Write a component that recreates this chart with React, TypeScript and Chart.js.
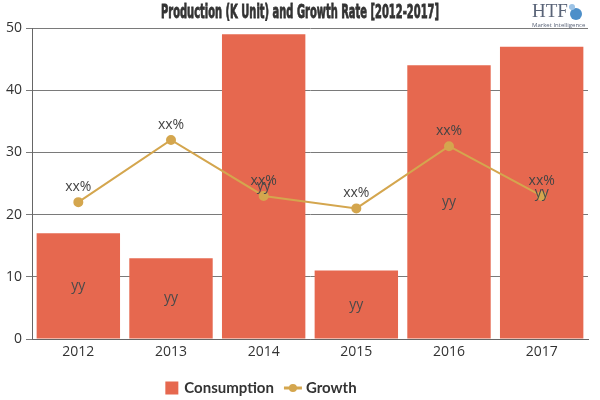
import React, { useEffect, useRef } from "react";
import { Chart, registerables } from "chart.js";

Chart.register(...registerables);

const years = ["2012", "2013", "2014", "2015", "2016", "2017"];
const consumption = [17, 13, 49, 11, 44, 47];
const growth = [22, 32, 23, 21, 31, 23];
const barLabels = ["yy", "yy", "yy", "yy", "yy", "yy"];
const pointLabels = ["xx%", "xx%", "xx%", "xx%", "xx%", "xx%"];
const yTicks = [0, 10, 20, 30, 40, 50];

const titleText = "Production (K Unit) and Growth Rate [2012-2017]";
const seriesNames = ["Consumption", "Growth"];

const BAR_COLOR = "#E6684F";
const LINE_COLOR = "#D4A64E";
const TEXT_COLOR = "#333333";
const UI_FONT = "'Open Sans', 'Noto Sans', sans-serif";
const LEGEND_FONT = "Lato, 'Open Sans', sans-serif";

// Value labels on bars and line points
const valueLabels = {
  id: "valueLabels",
  afterDatasetsDraw(chart: any) {
    const ctx = chart.ctx;
    ctx.save();
    ctx.font = `14px ${UI_FONT}`;
    ctx.textAlign = "center";
    ctx.textBaseline = "middle";
    const barMeta = chart.getDatasetMeta(0);
    barMeta.data.forEach((bar: any, i: number) => {
      ctx.fillStyle = "#4a4a4a";
      ctx.fillText(barLabels[i], bar.x, (bar.y + bar.base) / 2);
    });
    const lineMeta = chart.getDatasetMeta(1);
    lineMeta.data.forEach((pt: any, i: number) => {
      ctx.fillStyle = "#444444";
      ctx.fillText(pointLabels[i], pt.x, pt.y - 15);
    });
    ctx.restore();
  },
};

// Condensed bold title, logo and bottom legend
const decorations = {
  id: "decorations",
  afterDraw(chart: any) {
    const ctx = chart.ctx;
    ctx.save();

    // title, squeezed horizontally for a condensed look
    ctx.font = `bold 20px 'DejaVu Sans Condensed', 'Liberation Sans Narrow', sans-serif`;
    ctx.fillStyle = "#333333";
    ctx.strokeStyle = "#333333";
    ctx.lineWidth = 0.8;
    ctx.textBaseline = "middle";
    const tw = ctx.measureText(titleText).width;
    const targetW = 278;
    ctx.save();
    ctx.translate(300 - targetW / 2, 13);
    ctx.scale(targetW / tw, 1);
    ctx.textAlign = "left";
    ctx.fillText(titleText, 0, 0);
    ctx.strokeText(titleText, 0, 0);
    ctx.restore();

    // logo
    ctx.textAlign = "left";
    ctx.font = `19px 'Liberation Serif', 'DejaVu Serif', serif`;
    ctx.fillStyle = "#5a6478";
    ctx.fillText("HTF", 532, 12);
    ctx.fillStyle = "#4d8fc9";
    ctx.beginPath();
    ctx.arc(576, 14, 6, 0, Math.PI * 2);
    ctx.fill();
    ctx.fillStyle = "#9cc3e6";
    ctx.beginPath();
    ctx.arc(572, 7, 3, 0, Math.PI * 2);
    ctx.fill();
    ctx.font = `6px ${UI_FONT}`;
    ctx.fillStyle = "#5a6478";
    ctx.fillText("Market Intelligence", 532, 25);

    // legend
    ctx.font = `bold 15px ${LEGEND_FONT}`;
    const w1 = ctx.measureText(seriesNames[0]).width;
    const w2 = ctx.measureText(seriesNames[1]).width;
    const box = 13;
    const gap = 6;
    const itemGap = 10;
    const lineW = 18;
    const total = box + gap + w1 + itemGap + lineW + gap - 2 + w2;
    let x = 261 - total / 2;
    const cy = 388;
    ctx.fillStyle = BAR_COLOR;
    ctx.fillRect(x, cy - 6.5, box, box);
    x += box + gap;
    ctx.fillStyle = TEXT_COLOR;
    ctx.textBaseline = "middle";
    ctx.fillText(seriesNames[0], x, cy);
    x += w1 + itemGap;
    ctx.strokeStyle = LINE_COLOR;
    ctx.lineWidth = 3;
    ctx.beginPath();
    ctx.moveTo(x, cy);
    ctx.lineTo(x + lineW, cy);
    ctx.stroke();
    ctx.fillStyle = LINE_COLOR;
    ctx.beginPath();
    ctx.arc(x + lineW / 2, cy, 4, 0, Math.PI * 2);
    ctx.fill();
    x += lineW + gap - 2;
    ctx.fillStyle = TEXT_COLOR;
    ctx.fillText(seriesNames[1], x, cy);

    ctx.restore();
  },
};

export default function App() {
  const canvasRef = useRef<HTMLCanvasElement | null>(null);

  useEffect(() => {
    if (!canvasRef.current) return;
    const chart = new Chart(canvasRef.current, {
      type: "bar",
      data: {
        labels: years,
        datasets: [
          {
            type: "bar",
            label: seriesNames[0],
            data: consumption,
            backgroundColor: BAR_COLOR,
            borderWidth: 0,
            barPercentage: 0.9,
            categoryPercentage: 1,
            order: 2,
          },
          {
            type: "line",
            label: seriesNames[1],
            data: growth,
            borderColor: LINE_COLOR,
            backgroundColor: LINE_COLOR,
            borderWidth: 2,
            pointRadius: 4,
            pointHoverRadius: 4,
            tension: 0,
            fill: false,
            order: 1,
          },
        ],
      },
      options: {
        responsive: false,
        animation: false,
        layout: { padding: { top: 28, right: 12, left: 0, bottom: 0 } },
        plugins: {
          legend: { display: false },
          title: { display: false },
          tooltip: { enabled: false },
        },
        scales: {
          x: {
            offset: true,
            grid: { display: false, drawTicks: false },
            border: { display: true, color: "#666666", width: 1 },
            ticks: {
              color: TEXT_COLOR,
              font: { size: 14, family: UI_FONT },
              padding: 5,
            },
            afterFit: (s: any) => {
              s.height = 61;
            },
          },
          y: {
            min: 0,
            max: 50,
            afterBuildTicks: (s: any) => {
              s.ticks = yTicks.map((v) => ({ value: v }));
            },
            grid: {
              color: "#7a7a7a",
              lineWidth: 1,
              tickLength: 6,
              drawTicks: true,
            },
            border: { display: true, color: "#666666", width: 1 },
            ticks: {
              color: TEXT_COLOR,
              font: { size: 14, family: UI_FONT },
              padding: 4,
            },
            afterFit: (s: any) => {
              s.width = 32;
            },
          },
        },
      },
      plugins: [valueLabels, decorations],
    });
    return () => chart.destroy();
  }, []);

  return (
    <div style={{ position: "fixed", left: 0, top: 0, width: 600, height: 400, background: "#fff" }}>
      <canvas ref={canvasRef} width={600} height={400} style={{ display: "block" }} />
    </div>
  );
}
